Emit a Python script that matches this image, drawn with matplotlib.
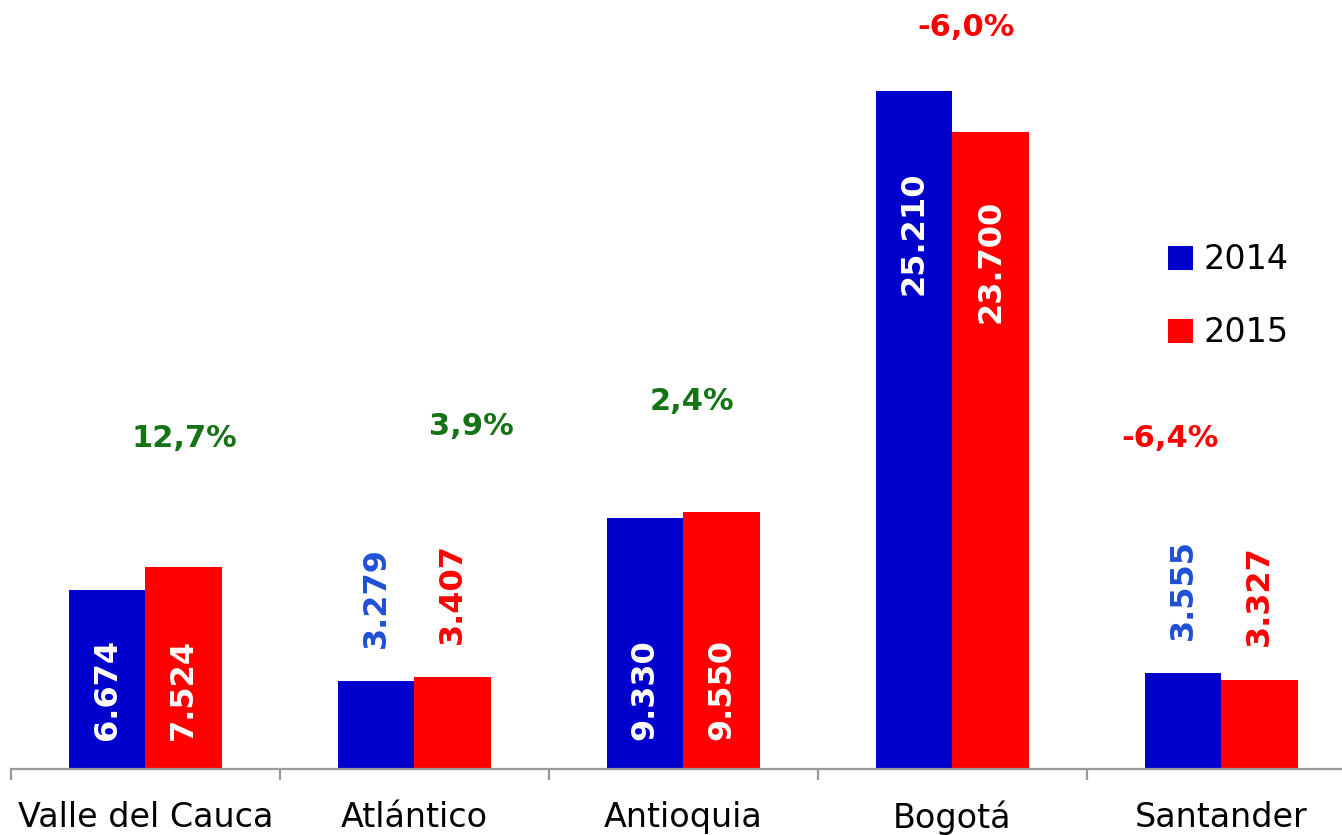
import numpy as np
import matplotlib
matplotlib.use("Agg")
import matplotlib.pyplot as plt

# Datos por departamento
departamentos = ["Valle del Cauca", "Atlántico", "Antioquia", "Bogotá", "Santander"]
anios = ["2014", "2015"]
valores_2014 = [6674, 3279, 9330, 25210, 3555]
valores_2015 = [7524, 3407, 9550, 23700, 3327]

azul = "#0000CC"
rojo = "#FF0000"
verde = "#147314"
azul_txt = "#1F4FD6"

plt.rcParams["font.family"] = "DejaVu Sans"

fig = plt.figure(figsize=(13.42, 8.35), dpi=100)
ax = fig.add_axes([11 / 1342, 66 / 835, 1345 / 1342, 769 / 835])

x = np.arange(len(departamentos))
w = 0.285
b1 = ax.bar(x - w / 2, valores_2014, w, color=azul, label=anios[0])
b2 = ax.bar(x + w / 2, valores_2015, w, color=rojo, label=anios[1])

ax.set_xlim(-0.5, 4.5)
ax.set_ylim(0, 28600)


def fmt(v):
    return f"{v:,}".replace(",", ".")


# etiquetas de valor: dentro de la barra o encima si es muy baja
for barras, color_fuera in ((b1, azul_txt), (b2, rojo)):
    for rect in barras:
        h = rect.get_height()
        cx = rect.get_x() + rect.get_width() / 2
        if h < 5000:
            ax.annotate(fmt(int(h)), (cx, h), xytext=(0, 24), textcoords="offset points",
                        rotation=90, ha="center", va="bottom", color=color_fuera,
                        fontsize=23, fontweight="bold")
        elif h > 20000:
            ax.text(cx, h * 0.70, fmt(int(h)), rotation=90, ha="center", va="bottom",
                    color="white", fontsize=23, fontweight="bold")
        else:
            ax.annotate(fmt(int(h)), (cx, 0), xytext=(0, 21), textcoords="offset points",
                        rotation=90, ha="center", va="bottom", color="white",
                        fontsize=23, fontweight="bold")

# variación porcentual 2015 vs 2014
var = [(b / a - 1) * 100 for a, b in zip(valores_2014, valores_2015)]
pos_dx = [0.145, 0.21, 0.03, 0.05, -0.19]
pos_y = [12310, 12720, 13685, 27595, 12310]
for i, v in enumerate(var):
    txt = f"{v:.1f}%".replace(".", ",")
    ax.text(x[i] + pos_dx[i], pos_y[i], txt, ha="center", va="center",
            color=verde if v > 0 else rojo, fontsize=22, fontweight="bold",
            clip_on=False)

for s in ("top", "right", "left"):
    ax.spines[s].set_visible(False)
ax.spines["bottom"].set_color("#999999")
ax.spines["bottom"].set_linewidth(1.6)
ax.set_yticks([])
ax.set_xticks(x)
ax.set_xticklabels(departamentos, fontsize=24)
ax.tick_params(axis="x", which="major", length=0, pad=23)
ax.set_xticks(np.arange(-0.5, 5, 1), minor=True)
ax.tick_params(axis="x", which="minor", length=8, width=1.6, color="#999999")

ax.legend(loc="upper left", bbox_to_anchor=(1144 / 1345, 1 - 230 / 769),
          frameon=False, fontsize=24, handlelength=0.75, handleheight=0.75,
          handletextpad=0.3, labelspacing=1.2, borderaxespad=0)

fig.savefig("out.png", dpi=100)
